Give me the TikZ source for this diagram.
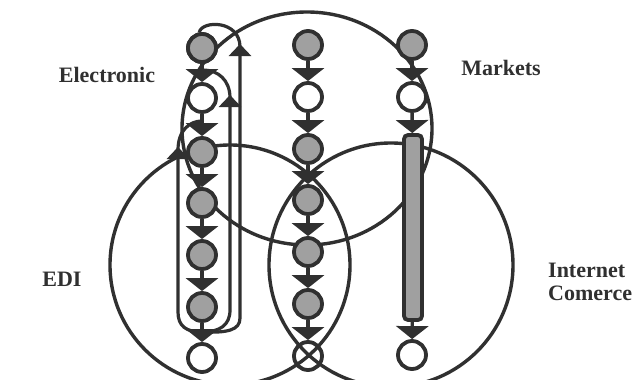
\documentclass[tikz,border=0pt]{standalone}
\usepackage{fontspec}
\setmainfont{Liberation Serif}
\usetikzlibrary{arrows.meta}
\definecolor{ink}{RGB}{48,48,48}
\definecolor{gfill}{RGB}{160,160,160}
\begin{document}
\begin{tikzpicture}[x=1pt,y=-1pt,
  ring/.style={draw=ink, line width=3.4pt},
  nd/.style={circle, draw=ink, line width=3.8pt, minimum size=28pt, inner sep=0pt},
  gnode/.style={nd, fill=gfill},
  wnode/.style={nd, fill=white},
  xnode/.style={nd},
  barnode/.style={draw=ink, line width=3.8pt, fill=gfill, rounded corners=4pt, minimum width=18pt, minimum height=185pt, inner sep=0pt},
  flow/.style={draw=ink, line width=3.4pt, -{Triangle[width=32pt,length=13pt]}},
  back/.style={draw=ink, line width=3.2pt},
  backtip/.style={back, -{Triangle[width=22pt,length=12pt]}},
  lbl/.style={font=\bfseries\fontsize{22}{24}\selectfont, text=ink, inner sep=0pt}]
\useasboundingbox (0,0) rectangle (633,380);
\fill[white] (0,0) rectangle (633,380);

% the three areas
\draw[ring] (307,128.5) ellipse [x radius=125, y radius=116.5];
\draw[ring] (230,265) circle [radius=120];
\draw[ring] (391,265) circle [radius=122];

% column 1 nodes
\node[gnode] (a1) at (202,48) {};
\node[wnode] (a2) at (202,98) {};
\node[gnode] (a3) at (202,152) {};
\node[gnode] (a4) at (202,203) {};
\node[gnode] (a5) at (202,255) {};
\node[gnode] (a6) at (202,307) {};
\node[wnode] (a7) at (202,358) {};

% column 2 nodes
\node[gnode] (b1) at (308,45) {};
\node[wnode] (b2) at (308,97) {};
\node[gnode] (b3) at (308,149) {};
\node[gnode] (b4) at (308,200) {};
\node[gnode] (b5) at (308,252) {};
\node[gnode] (b6) at (308,304) {};
\node[xnode] (b7) at (308,356) {};

% column 3 nodes
\node[gnode] (c1) at (412,45) {};
\node[wnode] (c2) at (412,97) {};
\node[barnode] (c3) at (413,227.5) {};
\node[wnode] (c4) at (412,355) {};

% feedback loops of column 1
\coordinate (j) at (202,332);
\draw[backtip] (j) .. controls (186,332) and (178,326) .. (178,312) -- (178,147);
\draw[back] (178,150) .. controls (178,130) and (190,121) .. (202,121);
\draw[backtip] (j) .. controls (220,332) and (230,325) .. (230,310) -- (230,95);
\draw[back] (230,98) .. controls (230,80) and (218,70) .. (203,70);
\draw[backtip] (j) .. controls (228,333) and (240,330) .. (240,318) -- (240,44);
\draw[back] (240,47) .. controls (240,20) and (202,20) .. (a1.100);

% flows
\foreach \u/\v in {a1/a2,a2/a3,a3/a4,a4/a5,a5/a6,a6/a7,
                   b1/b2,b2/b3,b3/b4,b4/b5,b5/b6,b6/b7,
                   c1/c2,c2/c3,c3/c4}
  \draw[flow] (\u) -- (\v);

% redraw node tops over loop joins
\node[gnode] at (a1) {};

% labels
\node[lbl] (lE) at (107,75) {Electronic};
\node[lbl] (lM) at (501,68) {Markets};
\node[lbl] (lD) at (62,279) {EDI};
\node[lbl, anchor=west] (lI) at (548,270) {Internet};
\node[lbl, anchor=west] (lC) at (548,293) {Comerce};
\end{tikzpicture}
\end{document}
